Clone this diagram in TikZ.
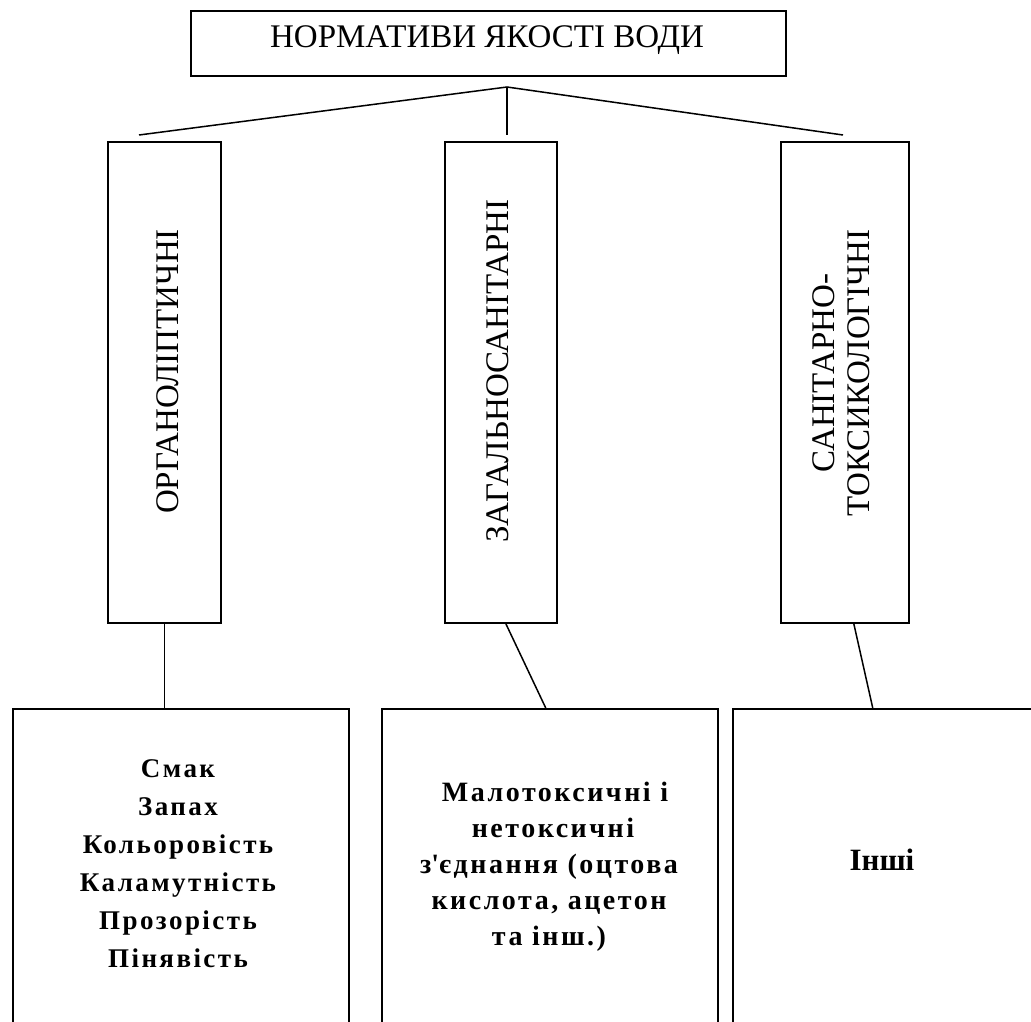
\documentclass[tikz,border=0pt]{standalone}
\usepackage{fontspec}
\setmainfont{Liberation Serif}
\begin{document}
\begin{tikzpicture}[x=1pt,y=-1pt,
  box/.style={draw,line width=1.5pt,inner sep=0pt,anchor=north west},
  conn/.style={line width=1.5pt},
  titletext/.style={font=\fontsize{33}{36}\selectfont,inner sep=0pt},
  verttext/.style={font=\fontsize{33}{35}\selectfont,inner sep=0pt,rotate=90},
  itemtext/.style={inner sep=0pt,align=center}
]
\path[use as bounding box,fill=white] (0,0) rectangle (1031,1021);
\clip (0,0) rectangle (1031,1021);
% top
\node[box,minimum width=595pt,minimum height=65pt] (top) at (190,10) {};
\node[titletext,anchor=base] (title) at (487,47) {НОРМАТИВИ ЯКОСТІ ВОДИ};
% vertical category boxes
\node[box,minimum width=113pt,minimum height=481pt] (v1) at (107,141) {};
\node[box,minimum width=112pt,minimum height=481pt] (v2) at (444,141) {};
\node[box,minimum width=128pt,minimum height=481pt] (v3) at (780,141) {};
\node[verttext,anchor=base] (t1) at (178,371.5) {ОРГАНОЛІПТИЧНІ};
\node[verttext,anchor=base] (t2) at (508,371) {ЗАГАЛЬНОСАНІТАРНІ};
\node[verttext,align=center,anchor=center] (t3) at (841.5,373) {САНІТАРНО-\\ТОКСИКОЛОГІЧНІ};
% bottom boxes
\node[box,minimum width=336pt,minimum height=340pt] (b1) at (12,708) {};
\node[box,minimum width=336pt,minimum height=340pt] (b2) at (381,708) {};
\node[box,minimum width=330pt,minimum height=340pt] (b3) at (732,708) {};
\node[itemtext,font={\bfseries\fontsize{27}{38}\selectfont\addfontfeatures{LetterSpace=9}}] (l1) at (178,864)
  {Смак\\Запах\\Кольоровість\\Каламутність\\Прозорість\\Пінявість};
\node[itemtext,font={\bfseries\fontsize{28}{36}\selectfont\addfontfeatures{LetterSpace=9}}] (l2) at (549,867)
  {\hspace*{12pt}Малотоксичні і\\\hspace*{8pt}нетоксичні\\з\textquotesingle єднання (оцтова\\кислота, ацетон\\та інш.)};
\node[itemtext,anchor=base,font={\bfseries\fontsize{31}{36}\selectfont}] (l3) at (882,870) {Інші};
% connectors
\coordinate (apex) at (507,87);
\coordinate (lend) at (139,135);
\coordinate (rend) at (843,135);
\coordinate (mend) at (507,135);
\draw[conn] (lend) -- (apex) -- (rend);
\draw[conn] (apex) -- (mend);
\draw[conn] (v1.south) -- (v1.south |- b1.north);
\draw[conn] ([xshift=5pt]v2.south) -- ([xshift=-4pt]b2.north);
\draw[conn] ([xshift=9pt]v3.south) -- ([xshift=-25pt]b3.north);
\end{tikzpicture}
\end{document}
